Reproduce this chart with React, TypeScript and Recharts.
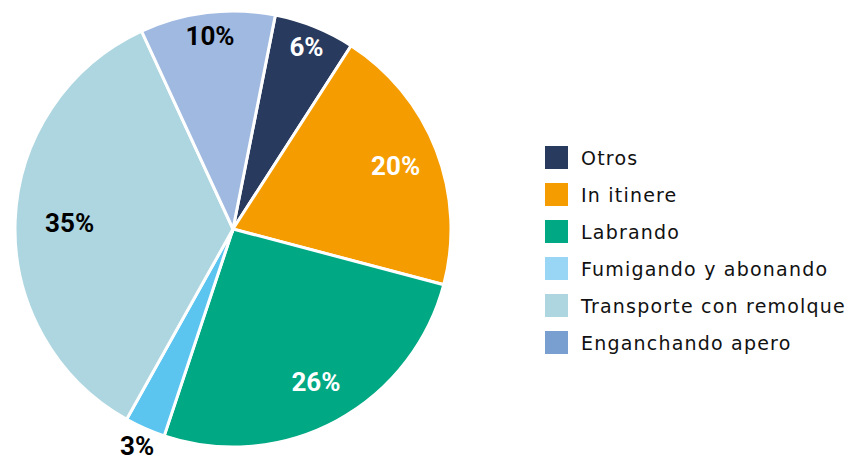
import { PieChart, Pie, Cell, Legend } from "recharts";

const categories = [
  "Otros",
  "In itinere",
  "Labrando",
  "Fumigando y abonando",
  "Transporte con remolque",
  "Enganchando apero",
];
const values = [6, 20, 26, 3, 35, 10];
const sliceColors = ["#283a5e", "#f59d00", "#00a884", "#5bc5f0", "#add6e0", "#a0b9e0"];
const legendColors = ["#283a5e", "#f59d00", "#00a884", "#99d6f5", "#add6e0", "#789fd0"];
const labelColors = ["#fff", "#fff", "#fff", "#000", "#000", "#000"];

const data = categories.map((name, i) => ({ name, value: values[i] }));

const RAD = Math.PI / 180;
// distance of each label from the centre, as a share of the radius
const labelRadius = [0.9, 0.8, 0.8, 1.09, 0.75, 0.89];

function renderLabel(props: any) {
  const { cx, cy, midAngle, outerRadius, index, value } = props;
  const r = outerRadius * labelRadius[index];
  const x = cx + r * Math.cos(-midAngle * RAD);
  const y = cy + r * Math.sin(-midAngle * RAD);
  return (
    <text
      x={x}
      y={y}
      fill={labelColors[index]}
      textAnchor="middle"
      dominantBaseline="central"
      fontFamily="Roboto, sans-serif"
      fontWeight={700}
      fontSize={26}
    >
      {value}%
    </text>
  );
}

function LegendBox() {
  return (
    <div
      style={{
        fontFamily: "'DejaVu Sans', sans-serif",
        fontSize: 19,
        letterSpacing: 1.2,
        color: "#111",
        whiteSpace: "nowrap",
      }}
    >
      {categories.map((c, i) => (
        <div key={c} style={{ display: "flex", alignItems: "center", height: 37 }}>
          <span
            style={{
              width: 23,
              height: 23,
              background: legendColors[i],
              display: "inline-block",
              marginRight: 13,
            }}
          />
          <span>{c}</span>
        </div>
      ))}
    </div>
  );
}

export default function App() {
  return (
    <div style={{ position: "absolute", left: 0, top: 0, width: 851, height: 461, background: "#fff" }}>
      <PieChart width={851} height={461} margin={{ top: 0, right: 0, bottom: 0, left: 0 }}>
        <Pie
          data={data}
          dataKey="value"
          cx={233}
          cy={229}
          outerRadius={218}
          startAngle={78.8}
          endAngle={-281.2}
          stroke="#fff"
          strokeWidth={3}
          label={renderLabel}
          labelLine={false}
          isAnimationActive={false}
        >
          {data.map((d, i) => (
            <Cell key={d.name} fill={sliceColors[i]} />
          ))}
        </Pie>
        <Legend
          content={() => <LegendBox />}
          wrapperStyle={{ position: "absolute", left: 545, top: 139, width: 306 }}
        />
      </PieChart>
    </div>
  );
}
